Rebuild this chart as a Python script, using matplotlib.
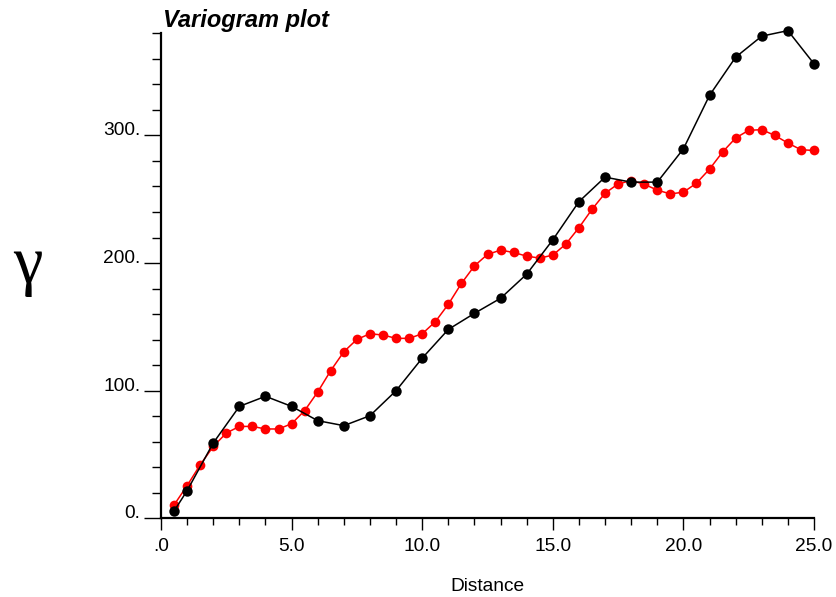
import numpy as np
import matplotlib.pyplot as plt
from matplotlib.ticker import MultipleLocator, FuncFormatter

# data
dist_black = [0.5, 1, 2, 3, 4, 5, 6, 7, 8, 9, 10, 11, 12, 13,
              14, 15, 16, 17, 18, 19, 20, 21, 22, 23, 24, 25]
gamma_black = [5.7, 21.7, 59, 87.7, 95.6, 87.7, 76.5, 72.6, 80.4, 100, 125.5, 148, 160.6, 172.4,
               191.3, 218.2, 248.1, 267.3, 263.4, 263.4, 289.5, 331.4, 361.3, 377.8, 382.1, 356.1]

dist_red = [0.5, 1, 1.5, 2, 2.5, 3, 3.5, 4, 4.5, 5, 5.5, 6, 6.5, 7, 7.5, 8, 8.5, 9, 9.5, 10,
            10.5, 11, 11.5, 12, 12.5, 13, 13.5, 14, 14.5, 15, 15.5, 16, 16.5, 17, 17.5, 18,
            18.5, 19, 19.5, 20, 20.5, 21, 21.5, 22, 22.5, 23, 23.5, 24, 24.5, 25]
gamma_red = [10.5, 25.6, 41.9, 56.3, 66.8, 72, 72, 70, 70, 74.1, 84.4, 99, 115.8, 130.5, 140.2,
             144.6, 143.6, 141, 141, 144.6, 154, 167.7, 184, 197.8, 206.8, 210.1, 208.3, 205.4,
             203.9, 206.2, 214.9, 227.7, 242.1, 254.7, 262, 264.6, 261.8, 257.1, 254.2, 255.5,
             262.6, 273.6, 287, 298, 304, 304.5, 300, 294, 288.8, 288.2]

plt.rcParams['font.family'] = ['Liberation Sans', 'DejaVu Sans']

fig = plt.figure(figsize=(8.36, 5.97), dpi=100)
ax = fig.add_axes([0.1926, 0.1318, 0.7811, 0.8124])

ax.plot(dist_red, gamma_red, color='red', lw=1.1, marker='o', ms=7.0, mew=0, clip_on=False, zorder=3)
ax.plot(dist_black, gamma_black, color='black', lw=1.1, marker='o', ms=7.5, mew=0, clip_on=False, zorder=4)

ax.set_xlim(0, 25)
ax.set_ylim(0, 380)

for s in ['top', 'right']:
    ax.spines[s].set_visible(False)
for s in ['left', 'bottom']:
    ax.spines[s].set_linewidth(1.6)

ax.xaxis.set_major_locator(MultipleLocator(5))
ax.xaxis.set_minor_locator(MultipleLocator(1))
ax.yaxis.set_major_locator(MultipleLocator(100))
ax.yaxis.set_minor_locator(MultipleLocator(20))

def xfmt(v, pos):
    s = "%.1f" % v
    return s[1:] if s.startswith("0") else s

def yfmt(v, pos):
    return "%d." % v

ax.xaxis.set_major_formatter(FuncFormatter(xfmt))
ax.yaxis.set_major_formatter(FuncFormatter(yfmt))

ax.tick_params(axis='x', which='major', length=8.5, width=1.0, pad=6, labelsize=13.8)
ax.tick_params(axis='x', which='minor', length=5, width=1.0)
ax.tick_params(axis='y', which='major', length=12, width=1.0, pad=3, labelsize=13.8)
ax.tick_params(axis='y', which='minor', length=6.7, width=1.0)
for lbl in ax.get_yticklabels():
    lbl.set_va('baseline')

fig.text(0.195, 0.954, "Variogram plot", ha='left', va='baseline',
         fontsize=17, fontweight='bold', fontstyle='italic')
fig.text(0.033, 0.553, "\u03b3", ha='center', va='center', fontsize=48,
         family=['Liberation Serif', 'DejaVu Serif'])
fig.text(0.583, 0.0095, "Distance", ha='center', va='baseline', fontsize=13.8)

fig.savefig("out.png", dpi=100)
